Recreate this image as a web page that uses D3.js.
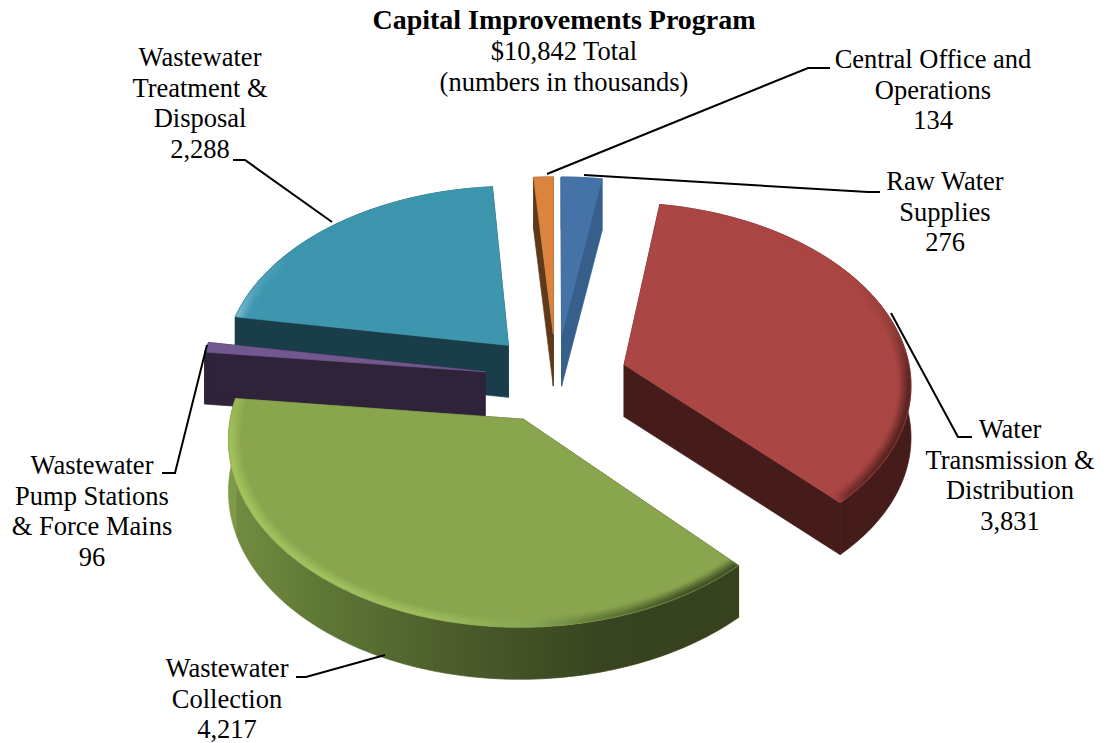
<!DOCTYPE html>
<html lang="en">
<head>
<meta charset="UTF-8">
<title>Capital Improvements Program</title>
<script src="https://d3js.org/d3.v7.min.js"></script>
<style>
	html, body { margin: 0; padding: 0; background: #fff; }
	text { font-family: "Liberation Serif", serif; font-size: 26.5px; fill: #000; text-anchor: middle; }
</style>
</head>
<body>
<script>
// data
var titleText = "Capital Improvements Program";
var subtitleLines = ["$10,842 Total", "(numbers in thousands)"];
var categories = ["Raw Water Supplies", "Water Transmission & Distribution", "Wastewater Collection",
	"Wastewater Pump Stations & Force Mains", "Wastewater Treatment & Disposal", "Central Office and Operations"];
var values = [276, 3831, 4217, 96, 2288, 134];
var labelLines = [
	["Raw Water", "Supplies"],
	["Water", "Transmission &", "Distribution"],
	["Wastewater", "Collection"],
	["Wastewater", "Pump Stations", "& Force Mains"],
	["Wastewater", "Treatment &", "Disposal"],
	["Central Office and", "Operations"]
];

// colours, same order as the values
var topColors = ["#4572a7", "#aa4643", "#89a54e", "#71588f", "#3d96ae", "#db843d"];
var cutColors = ["#365f8c", "#451c1a", "#3a4620", "#2e2339", "#1a3d4a", "#5e3a1a"];

// layout
var w = 1113, h = 743;
var cx = 556, cy = 378, rx = 287, ry = 180, persp = 0.095, depth = 52, explode = 0.25;
var bevel = 0.04;
var drawOrder = [5, 0, 4, 3, 1, 2];

// label anchors and leader lines, same order as the values
var labelX = [945, 1010, 227, 92, 200, 933];
var labelY = [190, 438, 677, 474, 66, 68];
var lineHeight = 30.5;
var leaders = [
	[[584, 175], [868, 192], [880, 192]],
	[[891, 313], [958, 437], [972, 437]],
	[[385, 655], [306, 677], [296, 677]],
	[[207, 345], [175, 473], [162, 473]],
	[[332, 222], [245, 160], [233, 160]],
	[[547, 174], [808, 68], [830, 68]]
];

// shading by screen angle (degrees, 0 = right, clockwise)
var wallShade = {
	2: d3.scaleLinear().domain([46.4, 75, 100, 130, 160, 186.4])
		.range(["#36421d", "#38441f", "#4a5b2a", "#5f7836", "#718c40", "#7f9b48"])
};
var edgeShade = {
	1: d3.scaleLinear().domain([-81, -30, -12, 5, 30, 44, 47])
		.range(["#aa4643", "#aa4643", "#8a3b38", "#54211f", "#4d201d", "#6a2b29", "#aa4643"]),
	2: d3.scaleLinear().domain([46, 60, 75, 88, 105, 130, 170, 187])
		.range(["#3a4620", "#3c4a22", "#5c7335", "#88a554", "#a0bf5f", "#a5c560", "#a6c65f", "#9ab955"]),
	4: d3.scaleLinear().domain([189, 198, 215, 266]).range(["#7fc0d6", "#5aa9c1", "#3d96ae", "#3d96ae"])
};

var svg = d3.select("body").append("svg")
	.attr("width", w)
	.attr("height", h)
	.style("display", "block");
var defs = svg.append("defs");
defs.append("filter").attr("id", "soft")
	.append("feGaussianBlur").attr("stdDeviation", 0.9);

var arcs = d3.pie().sort(null)(values);
var deg = 180 / Math.PI;
var line = d3.line();

function project(X, Y, drop) {
	var k = 1 / (1 - persp * Y);
	return [cx + rx * X * k, cy + ry * Y * k + drop];
}

function rimPoint(d, t, r, drop) {
	var mid = (d.startAngle + d.endAngle) / 2 - Math.PI / 2;
	return project(explode * Math.cos(mid) + r * Math.cos(t), explode * Math.sin(mid) + r * Math.sin(t), drop);
}

function angles(d) {
	var a0 = d.startAngle - Math.PI / 2, a1 = d.endAngle - Math.PI / 2;
	var n = Math.max(2, Math.ceil((a1 - a0) * deg));
	return d3.range(n + 1).map(function(i) { return a0 + (a1 - a0) * i / n; });
}

function face(g, p, color, width) {
	return g.append("path")
		.attr("d", line(p) + "Z")
		.attr("fill", color)
		.attr("stroke", color)
		.attr("stroke-width", width);
}

// horizontal gradient for a wall, stops taken from its shade scale
function wallGradient(i, d) {
	var scale = wallShade[i];
	var stops = scale.domain().map(function(a) {
		return { x: rimPoint(d, a / deg, 1, 0)[0], color: scale(a) };
	}).sort(function(p, q) { return p.x - q.x; });
	var x0 = stops[0].x, x1 = stops[stops.length - 1].x;
	var grad = defs.append("linearGradient")
		.attr("id", "wall" + i)
		.attr("gradientUnits", "userSpaceOnUse")
		.attr("x1", x0).attr("x2", x1)
		.attr("y1", 0).attr("y2", 0);
	stops.forEach(function(s) {
		grad.append("stop")
			.attr("offset", (s.x - x0) / (x1 - x0))
			.attr("stop-color", s.color);
	});
	return "url(#wall" + i + ")";
}

drawOrder.forEach(function(i) {
	var d = arcs[i], ts = angles(d);
	var g = svg.append("g").attr("class", "slice");
	var first = ts[0], last = ts[ts.length - 1];

	// cut faces
	[first, last].forEach(function(t) {
		face(g, [rimPoint(d, t, 0, 0), rimPoint(d, t, 1, 0), rimPoint(d, t, 1, depth), rimPoint(d, t, 0, depth)], cutColors[i], 0.7);
	});

	// outer wall
	var wallFill = wallShade[i] ? wallGradient(i, d) : cutColors[i];
	var wall = ts.map(function(t) { return rimPoint(d, t, 1, 0); })
		.concat(ts.slice().reverse().map(function(t) { return rimPoint(d, t, 1, depth); }));
	face(g, wall, wallFill, 0.7);

	// top face
	var outline = [rimPoint(d, first, 0, 0)].concat(ts.map(function(t) { return rimPoint(d, t, 1, 0); }));
	face(g, outline, topColors[i], 0.7);

	// bevel band along the rim, clipped so the blur stays on the top face
	if (edgeShade[i]) {
		defs.append("clipPath").attr("id", "top" + i)
			.append("path").attr("d", line(outline) + "Z");
		var steps = 6;
		var band = g.append("g").attr("clip-path", "url(#top" + i + ")")
			.append("g").attr("filter", "url(#soft)");
		d3.range(steps).forEach(function(s) {
			var r0 = 1 - bevel * (1 - s / steps), r1 = 1 - bevel * (1 - (s + 1) / steps);
			d3.pairs(ts).forEach(function(p) {
				var a = (p[0] + p[1]) / 2 * deg;
				var col = d3.interpolateRgb(topColors[i], edgeShade[i](a))((s + 1) / steps);
				face(band, [rimPoint(d, p[0], r0, 0), rimPoint(d, p[1], r0, 0), rimPoint(d, p[1], r1, 0), rimPoint(d, p[0], r1, 0)], col, 0.7);
			});
		});
	}
});

// leader lines
svg.selectAll("path.leader")
	.data(leaders)
	.enter()
	.append("path")
	.attr("class", "leader")
	.attr("d", function(d) { return line(d); })
	.attr("fill", "none")
	.attr("stroke", "#000")
	.attr("stroke-width", 2);

// labels
var fmt = d3.format(",");
categories.forEach(function(name, i) {
	var lines = labelLines[i].concat([fmt(values[i])]);
	var t = svg.append("text").attr("aria-label", name);
	lines.forEach(function(s, j) {
		t.append("tspan")
			.attr("x", labelX[i])
			.attr("y", labelY[i] + j * lineHeight)
			.text(s);
	});
});

// title
svg.append("text")
	.attr("x", 564)
	.attr("y", 29)
	.style("font-weight", "bold")
	.style("font-size", "28px")
	.text(titleText);
subtitleLines.forEach(function(s, j) {
	svg.append("text")
		.attr("x", 564)
		.attr("y", 60 + j * 31)
		.text(s);
});
</script>
</body>
</html>
